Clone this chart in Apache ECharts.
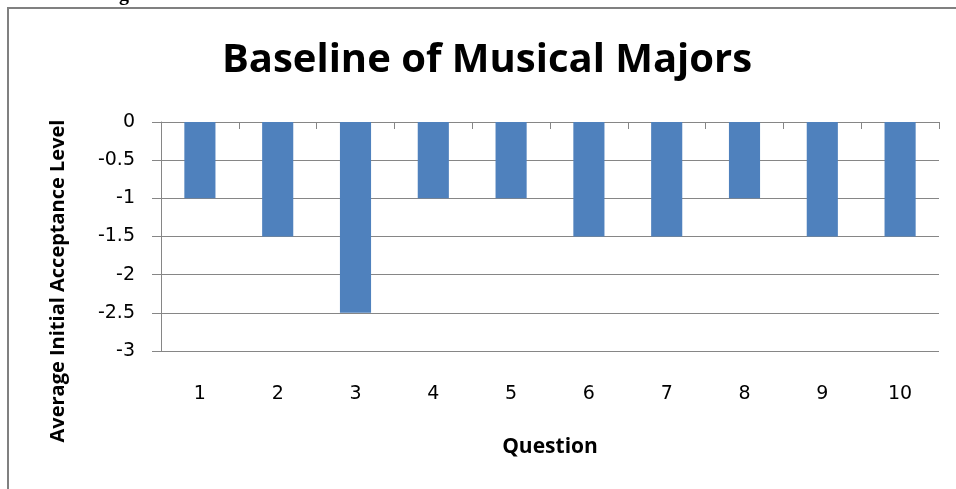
<!DOCTYPE html>
<html>
<head>
<meta charset="utf-8">
<script src="https://cdn.jsdelivr.net/npm/echarts@6/dist/echarts.min.js"></script>
<style>
html,body{margin:0;padding:0;background:#fff;}
#chart{width:956px;height:489px;}
</style>
</head>
<body>
<div id="chart"></div>
<script>
const categories = ['1','2','3','4','5','6','7','8','9','10'];
const values = [-1, -1.5, -2.5, -1, -1, -1.5, -1.5, -1, -1.5, -1.5];
const titleText = 'Baseline of Musical Majors';
const yAxisTitle = 'Average Initial Acceptance Level';
const xAxisTitle = 'Question';

const chart = echarts.init(document.getElementById('chart'), null, {renderer:'canvas'});
const gridColor = '#868686';
chart.setOption({
  animation: false,
  backgroundColor: '#fff',
  title: {
    text: titleText,
    left: 482, textAlign: 'center',
    top: 36,
    textStyle: {fontFamily: 'Open Sans', fontWeight: 'bold', fontSize: 40, color: '#000'}
  },
  grid: {left: 161, right: 17, top: 122, bottom: 138, containLabel: false},
  xAxis: [{
    type: 'category', data: categories, position: 'top',
    boundaryGap: true,
    axisLine: {show: true, lineStyle: {color: gridColor, width: 1}},
    axisTick: {show: true, inside: true, length: 7, lineStyle: {color: gridColor}},
    axisLabel: {show: false},
    splitLine: {show: false}
  }, {
    type: 'category', data: categories, position: 'bottom',
    boundaryGap: true,
    axisLine: {show: false}, axisTick: {show: false},
    axisLabel: {show: true, margin: 34, fontFamily: 'DejaVu Sans', fontSize: 19, color: '#000'},
    name: xAxisTitle, nameLocation: 'middle', nameGap: 86,
    nameTextStyle: {fontFamily: 'Open Sans', fontWeight: 'bold', fontSize: 21, color: '#000'}
  }],
  yAxis: {
    type: 'value', min: -3, max: 0, interval: 0.5,
    axisLine: {show: true, lineStyle: {color: gridColor, width: 1}},
    axisTick: {show: true, inside: false, length: 9, lineStyle: {color: gridColor}},
    axisLabel: {margin: 26, fontFamily: 'DejaVu Sans', fontSize: 19, color: '#000'},
    splitLine: {show: true, lineStyle: {color: gridColor, width: 1}}
  },
  graphic: [
    {type: 'rect', shape: {x: 8, y: 8, width: 1000, height: 600},
     style: {fill: 'none', stroke: '#808080', lineWidth: 2}, z: 100, silent: true},
    {type: 'text', x: 58, y: 281, rotation: Math.PI/2,
     style: {text: yAxisTitle, font: 'bold 20px "Open Sans"', fill: '#000', textAlign: 'center', textVerticalAlign: 'middle'}},
    {type: 'text', x: 108, y: -15,
     style: {text: 'ng', font: 'bold 20px "Liberation Serif"', fill: '#000', textAlign: 'left', textVerticalAlign: 'top'}}
  ],
  series: [{
    type: 'bar', data: values, xAxisIndex: 0, barWidth: '40%',
    itemStyle: {color: '#4F81BD'}
  }]
});
</script>
</body>
</html>
